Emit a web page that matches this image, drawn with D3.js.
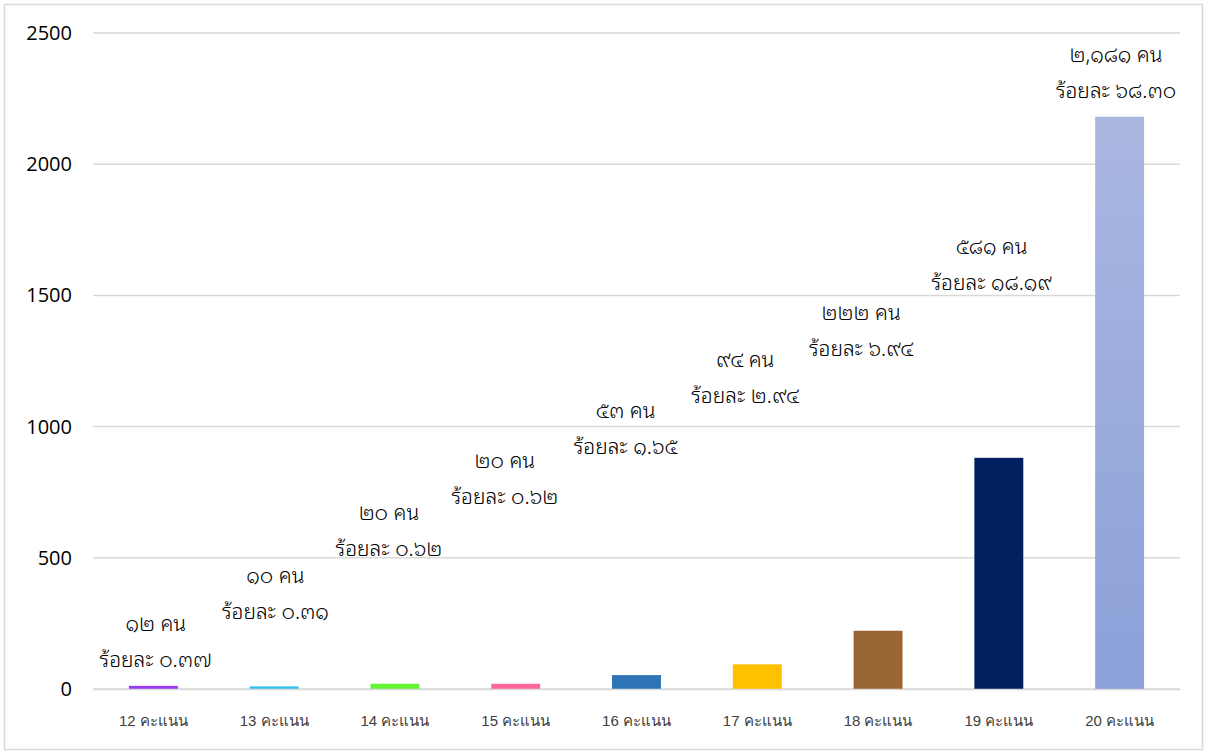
<!DOCTYPE html>
<html><head><meta charset="utf-8">
<script src="https://cdn.jsdelivr.net/npm/d3@7"></script>
<style>
html,body{margin:0;padding:0;background:#fff;}
svg{display:block;font-family:"Noto Sans","Open Sans",sans-serif;}
.dl{font-family:"Noto Sans Thai Looped","Loma","Garuda","Noto Sans Thai","Noto Sans",sans-serif;font-weight:300;}
</style></head>
<body><div id="chart"></div>
<script>
const categories = ["12 คะแนน","13 คะแนน","14 คะแนน","15 คะแนน","16 คะแนน","17 คะแนน","18 คะแนน","19 คะแนน","20 คะแนน"];
const values = [12, 10, 20, 20, 53, 94, 222, 881, 2181];
const colors = ["#9B3BF4","#33C3EA","#66F533","#FF6699","#2E75B6","#FFC000","#996633","#002060","url(#g20)"];
const countLabels = ["๑๒ คน","๑๐ คน","๒๐ คน","๒๐ คน","๕๓ คน","๙๔ คน","๒๒๒ คน","๕๘๑ คน","๒,๑๘๑ คน"];
const pctLabels = ["ร้อยละ ๐.๓๗","ร้อยละ ๐.๓๑","ร้อยละ ๐.๖๒","ร้อยละ ๐.๖๒","ร้อยละ ๑.๖๕","ร้อยละ ๒.๙๔","ร้อยละ ๖.๙๔","ร้อยละ ๑๘.๑๙","ร้อยละ ๖๘.๓๐"];
// label anchor (data units, vertical centre of the two-line label) and horizontal offset in band units
const labelAt = [183, 365, 605, 805, 995, 1190, 1370, 1620, 2350];
const labelDx = [0.02, 0.01, -0.05, -0.09, -0.09, -0.1, -0.14, -0.06, -0.03];
const yTicks = [0, 500, 1000, 1500, 2000, 2500];

const W = 1208, H = 753;
const m = {left: 93, right: 28, top: 33, bottom: 64};
const svg = d3.select("#chart").append("svg").attr("width", W).attr("height", H);

const defs = svg.append("defs");
const g = defs.append("linearGradient").attr("id","g20").attr("x1",0).attr("y1",0).attr("x2",0).attr("y2",1);
g.append("stop").attr("offset","0%").attr("stop-color","#AAB7E1");
g.append("stop").attr("offset","100%").attr("stop-color","#8BA1D8");

svg.append("rect").attr("x",4.5).attr("y",4.5).attr("width",W-10).attr("height",H-8)
  .attr("fill","#fff").attr("stroke","#d9d9d9").attr("stroke-width",1.5);

const x = d3.scaleBand().domain(categories).range([m.left, W - m.right]).paddingInner(0.595).paddingOuter(0.2975);
const y = d3.scaleLinear().domain([0, 2500]).range([H - m.bottom, m.top]);

// gridlines
svg.append("g").selectAll("line").data(yTicks).join("line")
  .attr("x1", m.left).attr("x2", W - m.right)
  .attr("y1", d => y(d)).attr("y2", d => y(d))
  .attr("stroke", "#d9d9d9").attr("stroke-width", 1.5);

// y axis labels
const ya = svg.append("g").attr("transform", `translate(${m.left - 21},0)`)
  .call(d3.axisLeft(y).tickValues(yTicks).tickFormat(d3.format("d")).tickSize(0).tickPadding(0));
ya.select(".domain").remove();
ya.selectAll("text").attr("font-size", 20).attr("fill", "#000").attr("font-family","'Open Sans',sans-serif");

// bars
svg.append("g").selectAll("rect").data(values).join("rect")
  .attr("x", (d,i) => x(categories[i]))
  .attr("width", x.bandwidth())
  .attr("y", d => y(d))
  .attr("height", d => y(0) - y(d))
  .attr("fill", (d,i) => colors[i]);

// x axis
const xa = svg.append("g").attr("transform", `translate(0,${y(0)})`)
  .call(d3.axisBottom(x).tickSize(0).tickPadding(26));
xa.select(".domain").attr("stroke","#d9d9d9").attr("stroke-width",1.5);
xa.selectAll("text").attr("font-size", 15).attr("fill", "#404040");

// data labels
const lab = svg.append("g").attr("class","dl").selectAll("g").data(values).join("g")
  .attr("transform", (d,i) => `translate(${x(categories[i]) + x.bandwidth()/2 + labelDx[i]*x.step()},${y(labelAt[i])})`);
lab.append("text").attr("text-anchor","middle").attr("y",-10).attr("font-size",21).attr("fill","#000")
  .text((d,i) => countLabels[i]);
lab.append("text").attr("text-anchor","middle").attr("y",26).attr("font-size",21).attr("fill","#000")
  .text((d,i) => pctLabels[i]);
</script>
</body></html>
